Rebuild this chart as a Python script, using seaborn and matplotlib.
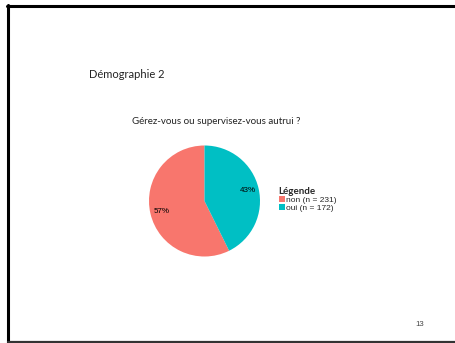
import matplotlib
matplotlib.use("Agg")
import matplotlib.pyplot as plt
from matplotlib.lines import Line2D
from matplotlib.patches import Patch
import numpy as np
import seaborn as sns

# Data
categories = ["non", "oui"]
counts = [231, 172]
pct_labels = ["57%", "43%"]
colors = ["#F8766D", "#00BFC4"]
slide_title = "Démographie 2"
chart_title = "Gérez-vous ou supervisez-vous autrui ?"
legend_title = "Légende"
page_number = "13"

sns.set_style("white")
plt.rcParams["font.family"] = ["Liberation Sans", "DejaVu Sans"]

W, H = 455, 343
fig = plt.figure(figsize=(W / 100, H / 100), dpi=100)
fig.patch.set_facecolor("white")

def fx(x):
    return x / W

def fy(y):
    return 1 - y / H

# Slide frame
fig.add_artist(Line2D([fx(7), fx(455)], [fy(5.5), fy(5.5)], color="black", lw=2.2))
fig.add_artist(Line2D([fx(8), fx(8)], [fy(4.5), fy(343)], color="black", lw=2.2))
fig.add_artist(Line2D([fx(8), fx(455)], [fy(341.5), fy(341.5)], color="#333333", lw=1.6))

# Pie axes
cx, cy, r = 204.5, 201, 55.5
ax = fig.add_axes([fx(cx - r), fy(cy + r), 2 * r / W, 2 * r / H])
wedges, texts = ax.pie(counts, colors=colors, startangle=90, counterclock=True,
                       radius=1, wedgeprops=dict(linewidth=0))
ax.set_xlim(-1, 1)
ax.set_ylim(-1, 1)
ax.set_aspect("equal")
ax.axis("off")

# Percentage labels
total = sum(counts)
start = 90.0
for c, lab in zip(counts, pct_labels):
    ang = start + 360.0 * c / total / 2
    ax.text(0.8 * np.cos(np.radians(ang)), 0.8 * np.sin(np.radians(ang)), lab,
            ha="center", va="center", fontsize=5.8, color="black")
    start += 360.0 * c / total

# Legend
handles = [Patch(facecolor=col, edgecolor="none") for col in colors]
labels = [f"{cat} (n = {n})" for cat, n in zip(categories, counts)]
leg = fig.legend(handles, labels, title=legend_title, loc="upper left",
                 bbox_to_anchor=(fx(278.5), fy(186.5)), frameon=False,
                 fontsize=6.0, handlelength=0.75, handleheight=0.75,
                 handletextpad=0.15, labelspacing=0.05, borderpad=0.0,
                 borderaxespad=0.0, alignment="left")
leg.get_title().set_fontweight("bold")
leg.get_title().set_fontsize(7)
leg.get_title().set_family(["Lato", "DejaVu Sans"])

# Texts
fig.text(fx(89), fy(75), slide_title, ha="left", va="center", fontsize=8,
         family=["Lato", "DejaVu Sans"], color="#222222")
fig.text(fx(216.5), fy(122), chart_title, ha="center", va="center", fontsize=7.05,
         family=["Lato", "DejaVu Sans"], color="#222222")
fig.text(fx(419.5), fy(325), page_number, ha="center", va="center", fontsize=5.6,
         color="#444444")

fig.savefig("out.png", dpi=100, facecolor="white")
